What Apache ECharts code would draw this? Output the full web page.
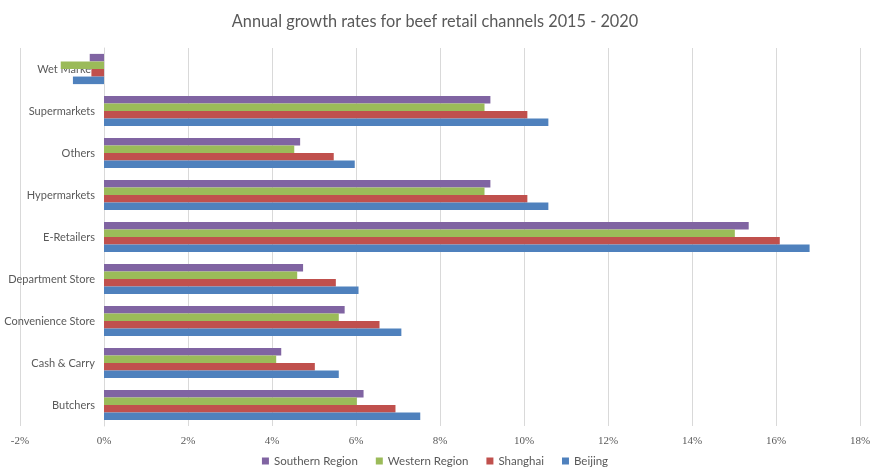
<!DOCTYPE html>
<html>
<head>
<meta charset="utf-8">
<script src="https://cdn.jsdelivr.net/npm/echarts@6/dist/echarts.min.js"></script>
<style>
  html, body { margin: 0; padding: 0; background: #fff; }
  #main { width: 870px; height: 474px; }
</style>
</head>
<body>
<div id="main"></div>
<script>
// channels, bottom to top as drawn
var channels = ['Butchers', 'Cash & Carry', 'Convenience Store', 'Department Store', 'E-Retailers',
    'Hypermarkets', 'Others', 'Supermarkets', 'Wet Market'];

// growth rates in %
var southern = [6.18, 4.22, 5.73, 4.74, 15.35, 9.2, 4.67, 9.2, -0.34];
var western = [6.02, 4.1, 5.59, 4.6, 15.02, 9.06, 4.53, 9.06, -1.03];
var shanghai = [6.94, 5.02, 6.56, 5.52, 16.09, 10.08, 5.47, 10.08, -0.3];
var beijing = [7.53, 5.59, 7.08, 6.06, 16.8, 10.58, 5.97, 10.58, -0.74];

var legendNames = ['Southern Region', 'Western Region', 'Shanghai', 'Beijing'];

var grey = '#595959';
var font = 'Lato';
var chart = echarts.init(document.getElementById('main'));

function bar(name, data, color) {
    return {
        name: name,
        type: 'bar',
        data: data,
        barGap: '0%',
        barCategoryGap: '28%',
        itemStyle: { color: color },
        emphasis: { disabled: true }
    };
}

chart.setOption({
    animation: false,
    title: {
        text: 'Annual growth rates for beef retail channels 2015 - 2020',
        left: 'center',
        top: 9,
        textStyle: { color: grey, fontSize: 16.3, fontWeight: 'normal', fontFamily: font }
    },
    legend: {
        data: legendNames,
        bottom: 2,
        left: 'center',
        itemWidth: 7,
        itemHeight: 7,
        itemGap: 18,
        icon: 'rect',
        textStyle: { color: grey, fontSize: 11.5, fontFamily: font }
    },
    grid: { left: 20, right: 10, top: 48, bottom: 48, containLabel: false, outerBoundsMode: 'none' },
    xAxis: {
        type: 'value',
        min: -2,
        max: 18,
        interval: 2,
        axisLine: { show: false },
        axisTick: { show: false },
        axisLabel: { formatter: '{value}%', color: grey, fontSize: 11, margin: 10, fontFamily: 'Liberation Sans Narrow' },
        splitLine: { lineStyle: { color: '#d9d9d9' } }
    },
    yAxis: {
        type: 'category',
        data: channels,
        // sit the category labels at the 0% line
        offset: -84,
        axisLine: { show: true, onZero: false, lineStyle: { color: '#d9d9d9' } },
        axisTick: { show: false },
        axisLabel: { color: grey, fontSize: 11, margin: 9, fontFamily: font }
    },
    series: [
        bar('Southern Region', southern, '#8064A2'),
        bar('Western Region', western, '#9BBB59'),
        bar('Shanghai', shanghai, '#C0504D'),
        bar('Beijing', beijing, '#4F81BD')
    ]
});
</script>
</body>
</html>
